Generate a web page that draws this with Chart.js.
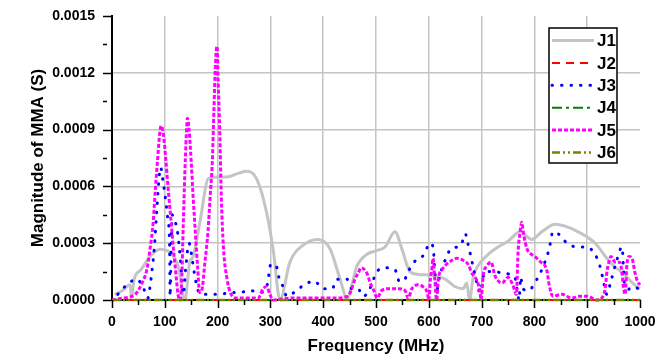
<!DOCTYPE html>
<html>
<head>
<meta charset="utf-8">
<script src="https://cdn.jsdelivr.net/npm/chart.js@4.4.0/dist/chart.umd.min.js"></script>
<style>
  body { margin: 0; background: #fff; }
  #wrap { width: 655px; height: 359px; }
</style>
</head>
<body>
<div id="wrap"><canvas id="chart" width="655" height="359"></canvas></div>
<script>
// ========================
// DATA (frequency in MHz, magnitude in S)
// ========================
const j1Freq = [5, 20, 34, 37, 42, 55, 72, 91, 110, 125, 138, 148, 152, 167, 182, 199, 217, 240, 255, 274, 293, 306, 318, 337, 362, 390, 413, 432, 445, 464, 482, 500, 517, 536, 549, 564, 580, 606, 631, 650, 665, 672, 677, 684, 693, 712, 731, 750, 773, 795, 814, 839, 858, 883, 915, 943, 968, 994, 1000];
const j1Mag = [0.00003, 0.00005, 0.00008, 0.00002, 0.00011, 0.00016, 0.00023, 0.000268, 0.00025, 0.00018, 0.0, 0.00021, 0.00022, 0.00042, 0.00064, 0.00065, 0.00065, 0.00067, 0.00068, 0.00064, 0.00046, 0.00025, 0.0, 0.0002, 0.00029, 0.00032, 0.00027, 0.00011, 0.00001, 0.00018, 0.00024, 0.00026, 0.00028, 0.00036, 0.00027, 0.00015, 0.000135, 0.00013, 0.00011, 0.00007, 0.00006, 0.00009, 0.0, 0.00012, 0.00018, 0.00024, 0.00028, 0.00031, 0.00036, 0.00032, 0.00036, 0.0004, 0.00039, 0.00036, 0.0003, 0.0002, 0.00014, 0.00007, 0.00006];

const j2Freq = [0, 250, 500, 750, 1000];
const j2Mag = [0, 0, 0, 0, 0];

const j3Freq = [11, 28, 47, 60, 68, 72, 76, 80, 85, 89, 92, 97, 102, 106, 109, 110, 112, 114, 118, 123, 130, 135, 140, 146, 150, 156, 163, 170, 186, 205, 224, 242, 261, 280, 294, 301, 311, 316, 324, 331, 345, 364, 383, 400, 417, 426, 445, 454, 466, 475, 485, 502, 517, 536, 544, 552, 561, 572, 591, 602, 608, 612, 615, 620, 631, 642, 661, 669, 674, 682, 690, 697, 706, 725, 742, 763, 768, 771, 774, 778, 788, 805, 814, 828, 835, 845, 862, 881, 899, 915, 924, 930, 937, 945, 956, 966, 969, 972, 980, 990, 1000];
const j3Mag = [0.00003, 0.00008, 0.00011, 0.00006, 0.00001, 0.00007, 0.00016, 0.00027, 0.00048, 0.00064, 0.0007, 0.00062, 0.00052, 0.00042, 0.0003, 0.00002, 0.00025, 0.00045, 0.00042, 0.00038, 0.0002, 0.00003, 0.00018, 0.0003, 0.00025, 0.00014, 0.00005, 0.00003, 0.00003, 0.00003, 0.00004, 0.00004, 0.00005, 0.00004, 0.00008, 0.00019, 0.00018, 0.00012, 0.00007, 0.00002, 0.00004, 0.00008, 0.0001, 0.00006, 0.00006, 0.00011, 0.00011, 0.00006, 0.00006, 0.00002, 0.00004, 0.00015, 0.00017, 0.00016, 0.0001, 0.0001, 0.00015, 0.0002, 0.00024, 0.0003, 0.00028, 0.00013, 0.00005, 0.00012, 0.00021, 0.00027, 0.00029, 0.00035, 0.0003, 0.0002, 0.0001, 0.00004, 0.00015, 0.00015, 0.00014, 0.00012, 0.00004, 0.0, 0.00012, 0.00006, 0.00005, 0.00011, 0.00016, 0.00027, 0.00036, 0.00035, 0.0003, 0.00028, 0.00028, 0.00024, 0.00018, 0.00011, 0.00003, 0.0001, 0.00021, 0.00028, 0.00015, 0.00003, 0.00006, 0.00007, 0.00005];

const j4Freq = [0, 250, 500, 750, 1000];
const j4Mag = [0, 0, 0, 0, 0];

const j5Freq = [0, 20, 44, 57, 66, 72, 78, 82, 86, 90, 93, 97, 102, 106, 111, 116, 121, 125, 129, 132, 135, 139, 143, 146, 150, 154, 158, 162, 166, 170, 176, 182, 186, 190, 193, 196, 199, 201, 204, 207, 211, 218, 224, 236, 260, 277, 286, 293, 299, 305, 340, 380, 420, 447, 454, 460, 466, 472, 483, 489, 496, 502, 511, 526, 542, 555, 561, 568, 580, 589, 597, 600, 603, 606, 608, 611, 615, 618, 625, 634, 644, 653, 665, 674, 682, 693, 697, 699, 703, 710, 718, 725, 739, 750, 759, 766, 769, 773, 776, 780, 786, 795, 801, 812, 818, 824, 828, 835, 852, 871, 886, 900, 918, 930, 934, 937, 941, 945, 953, 962, 966, 969, 972, 975, 979, 985, 990, 995, 1000];
const j5Mag = [0, 0.00001, 0.00003, 0.00009, 0.00016, 0.00027, 0.00041, 0.00058, 0.00073, 0.00087, 0.00092, 0.00088, 0.00074, 0.0006, 0.00044, 0.00028, 0.00014, 0.00003, 0.0, 0.0001, 0.0004, 0.00075, 0.00096, 0.0009, 0.00073, 0.00053, 0.00035, 0.00018, 0.00004, 0.00005, 0.0002, 0.00037, 0.00055, 0.00073, 0.001, 0.00125, 0.00134, 0.00116, 0.0009, 0.00055, 0.00028, 0.00011, 0.00004, 0.00001, 0.00001, 0.00001, 0.00006, 0.00007, 0.00003, 0.0, 0.00001, 0.00001, 0.00001, 0.00002, 0.00006, 0.00011, 0.00014, 0.00017, 0.00014, 0.00009, 0.00005, 0.00001, 0.00005, 0.00006, 0.00006, 0.00005, 0.00001, 0.00006, 0.00008, 0.00007, 0.00004, 0.0, 0.00011, 0.00017, 0.00022, 0.00012, 0.0, 0.00011, 0.00016, 0.00019, 0.00021, 0.00022, 0.00021, 0.00019, 0.00014, 0.00009, 0.00004, 0.0, 0.00013, 0.00018, 0.0002, 0.00013, 0.00009, 0.00012, 0.00008, 0.00003, 0.00025, 0.00036, 0.00041, 0.00034, 0.00027, 0.00024, 0.00023, 0.0002, 0.00019, 0.00015, 0.00008, 0.00002, 0.00003, 0.00001, 0.00002, 0.00002, 0.0, 0.00002, 0.00006, 0.00014, 0.0002, 0.00023, 0.0002, 0.0002, 0.00014, 0.00006, 0.00003, 0.00018, 0.00023, 0.00022, 0.00015, 0.0001, 0.00008];

const j6Freq = [0, 250, 500, 750, 1000];
const j6Mag = [0, 0, 0, 0, 0];

const xTickLabels = [0, 100, 200, 300, 400, 500, 600, 700, 800, 900, 1000];
const yTickLabels = ['0.0000', '0.0003', '0.0006', '0.0009', '0.0012', '0.0015'];

const FONT = '"Liberation Sans", Arial, sans-serif';
Chart.defaults.font.family = FONT;
Chart.defaults.color = '#000';

function toPoints(xs, ys) {
    return xs.map((x, i) => ({ x: x, y: ys[i] }));
}

function lineSet(label, xs, ys, color, width, dash, order, cap) {
    return {
        label: label,
        data: toPoints(xs, ys),
        borderColor: color,
        backgroundColor: color,
        borderWidth: width,
        borderDash: dash,
        borderCapStyle: cap || 'butt',
        pointRadius: 0,
        fill: false,
        cubicInterpolationMode: 'monotone',
        clip: false,
        order: order
    };
}

// ========================
// PLUGINS: tick marks + boxed legend
// ========================
const axisTicks = {
    id: 'axisTicks',
    afterDraw(chart) {
        const { ctx, chartArea: a, scales: { x, y } } = chart;
        ctx.save();
        ctx.strokeStyle = '#000';
        ctx.lineWidth = 1.5;
        for (let i = 0; i <= 20; i++) {
            const px = Math.round(x.getPixelForValue(i * 50)) + 0.5;
            const len = i % 2 === 0 ? 8 : 5;
            ctx.beginPath();
            ctx.moveTo(px, a.bottom);
            ctx.lineTo(px, a.bottom + len);
            ctx.stroke();
        }
        for (let i = 0; i <= 10; i++) {
            const py = Math.round(y.getPixelForValue(i * 0.00015)) + 0.5;
            ctx.beginPath();
            if (i % 2 === 0) {
                ctx.moveTo(a.left - 9, py);
                ctx.lineTo(a.left, py);
            } else {
                ctx.moveTo(a.left - 9, py);
                ctx.lineTo(a.left - 5, py);
            }
            ctx.stroke();
        }
        ctx.restore();
    }
};

const boxLegend = {
    id: 'boxLegend',
    afterDraw(chart) {
        const ctx = chart.ctx;
        ctx.save();
        ctx.fillStyle = '#fff';
        ctx.fillRect(549, 28, 68, 135);
        ctx.strokeStyle = '#000';
        ctx.lineWidth = 1.5;
        ctx.strokeRect(549, 28, 68, 135);
        chart.data.datasets.forEach((ds, i) => {
            const yy = 40.5 + i * 22.4;
            ctx.beginPath();
            ctx.setLineDash(ds.borderDash);
            ctx.lineWidth = ds.borderWidth;
            ctx.lineCap = ds.borderCapStyle;
            ctx.strokeStyle = ds.borderColor;
            ctx.moveTo(552, yy);
            ctx.lineTo(594, yy);
            ctx.stroke();
            ctx.setLineDash([]);
            ctx.fillStyle = '#000';
            ctx.font = 'bold 17px ' + FONT;
            ctx.textBaseline = 'middle';
            ctx.fillText(ds.label, 597, yy + 1);
        });
        ctx.restore();
    }
};

// ========================
// CHART
// ========================
new Chart(document.getElementById('chart'), {
    type: 'line',
    data: {
        datasets: [
            lineSet('J1', j1Freq, j1Mag, '#c4c4c4', 3, [], 6),
            lineSet('J2', j2Freq, j2Mag, '#ff0000', 2, [8, 6], 5),
            lineSet('J3', j3Freq, j3Mag, '#0000ff', 3, [0.5, 9], 4, 'round'),
            lineSet('J4', j4Freq, j4Mag, '#008000', 2, [10, 4, 3, 4], 3),
            lineSet('J5', j5Freq, j5Mag, '#ff00ff', 3, [4, 2], 2),
            lineSet('J6', j6Freq, j6Mag, '#808000', 2.5, [8, 3, 2, 3, 2, 3], 1)
        ]
    },
    options: {
        responsive: false,
        animation: false,
        layout: { padding: { left: 0, top: 16, right: 15, bottom: 0 } },
        plugins: {
            legend: { display: false },
            tooltip: { enabled: false }
        },
        scales: {
            x: {
                type: 'linear',
                min: 0,
                max: 1000,
                afterFit: (s) => { s.height = 59; s.paddingLeft = 0; s.paddingRight = 0; },
                afterBuildTicks: (s) => { s.ticks = xTickLabels.map(v => ({ value: v })); },
                ticks: {
                    autoSkip: false,
                    maxRotation: 0,
                    padding: 14,
                    color: '#000',
                    font: { size: 14, weight: 'bold' },
                    callback: (v, i) => String(xTickLabels[i])
                },
                grid: {
                    drawTicks: false,
                    lineWidth: 1.5,
                    color: (c) => (c.index > 0 && c.index < xTickLabels.length - 1) ? '#c4c4c4' : 'rgba(0,0,0,0)'
                },
                border: { display: true, color: '#000', width: 2 },
                title: {
                    display: true,
                    text: 'Frequency (MHz)',
                    color: '#000',
                    font: { size: 17, weight: 'bold' },
                    padding: { top: 0, bottom: 2 }
                }
            },
            y: {
                type: 'linear',
                min: 0,
                max: 0.0015,
                afterFit: (s) => { s.width = 112; s.paddingTop = 0; s.paddingBottom = 0; },
                afterBuildTicks: (s) => { s.ticks = yTickLabels.map(t => ({ value: parseFloat(t) })); },
                ticks: {
                    padding: 17,
                    color: '#000',
                    font: { size: 14, weight: 'bold' },
                    callback: (v, i) => yTickLabels[i]
                },
                grid: {
                    drawTicks: false,
                    lineWidth: 1.5,
                    color: (c) => (c.index > 0 && c.index < yTickLabels.length - 1) ? '#c4c4c4' : 'rgba(0,0,0,0)'
                },
                border: { display: true, color: '#000', width: 2 },
                title: {
                    display: true,
                    text: 'Magnitude of MMA (S)',
                    color: '#000',
                    font: { size: 17, weight: 'bold' },
                    padding: { top: 28, bottom: 0 }
                }
            }
        }
    },
    plugins: [axisTicks, boxLegend]
});
</script>
</body>
</html>
